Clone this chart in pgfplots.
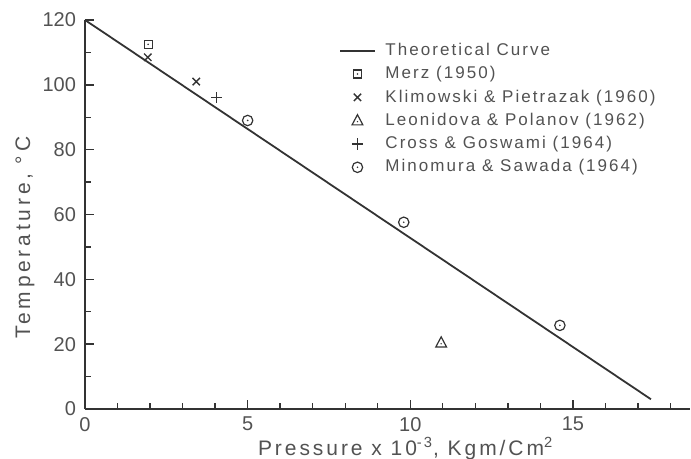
\documentclass[border=0pt]{standalone}
\usepackage{pgfplots}
\pgfplotsset{compat=1.18}
\usepackage{fontspec}
\setmainfont{Liberation Sans}
\newfontfamily\spaced[LetterSpace=18]{Liberation Sans}
\newfontfamily\xspaced[LetterSpace=14]{Liberation Sans}
\newfontfamily\lspaced[LetterSpace=12]{Liberation Sans}
\definecolor{ink}{HTML}{333333}
\pgfdeclareplotmark{sqdot}{%
  \pgfpathrectangle{\pgfqpoint{-\pgfplotmarksize}{-\pgfplotmarksize}}{\pgfqpoint{2\pgfplotmarksize}{2\pgfplotmarksize}}%
  \pgfusepathqstroke
  \pgfpathcircle{\pgfpointorigin}{0.45pt}\pgfusepathqfill}
\pgfdeclareplotmark{odot}{%
  \pgfpathcircle{\pgfpointorigin}{\pgfplotmarksize}\pgfusepathqstroke
  \pgfpathcircle{\pgfpointorigin}{0.45pt}\pgfusepathqfill}
\pgfdeclareplotmark{tridot}{%
  \pgfpathmoveto{\pgfqpoint{0pt}{\pgfplotmarksize}}%
  \pgfpathlineto{\pgfqpoint{-0.9\pgfplotmarksize}{-0.7\pgfplotmarksize}}%
  \pgfpathlineto{\pgfqpoint{0.9\pgfplotmarksize}{-0.7\pgfplotmarksize}}%
  \pgfpathclose\pgfusepathqstroke
  \pgfpathcircle{\pgfqpoint{0pt}{-0.15\pgfplotmarksize}}{0.4pt}\pgfusepathqfill}
\begin{document}
\begin{tikzpicture}[x=1pt,y=1pt]
\begin{axis}[
  at={(0,0)}, anchor=south west,
  width=302.5pt, height=194.5pt, scale only axis,
  xmin=0, xmax=18.6, ymin=0, ymax=120,
  axis lines=left,
  axis line style={-, line width=0.8pt, ink},
  tick style={ink, line width=0.7pt},
  tick align=inside,
  major tick length=4.5pt, minor tick length=3.2pt,
  xtick={0,5,10,15},
  minor xtick={1,2,3,4,6,7,8,9,11,12,13,14,16,17,18},
  ytick={0,20,40,60,80,100,120},
  minor ytick={10,30,50,70,90,110},
  /pgf/number format/assume math mode=true,
  tick label style={font=\fontsize{10}{12}\selectfont, text=ink!85},
  xticklabel style={yshift=-0.5pt},
  yticklabel style={xshift=-1pt},
  xlabel={\xspaced Pressure x 10\textsuperscript{-3}, Kgm/Cm\textsuperscript{2}},
  ylabel={\spaced Temperature, °C},
  label style={font=\fontsize{10.5}{12}\selectfont, text=ink!85},
  every axis x label/.append style={at={(rel axis cs:0.53,0)}, anchor=center, yshift=-20pt},
  every axis y label/.append style={at={(rel axis cs:0,0.44)}, anchor=center, yshift=30pt},
  legend style={at={(rel axis cs:0.42,0.952)}, anchor=north west, draw=none, fill=none,
    font=\lspaced\fontsize{8.5}{9}\selectfont, text=ink!85,
    row sep=0pt, inner sep=0pt,
    /tikz/every odd column/.append style={column sep=3pt}},
  legend cell align=left,
  legend image post style={ink},
]
\addplot[ink, line width=0.9pt] coordinates {(0,120) (17.4,3)};
\addlegendentry{Theoretical Curve}
\addplot[only marks, mark=sqdot, mark size=2pt, ink, line width=0.6pt] coordinates {(1.94,112.5)};
\addlegendentry{Merz (1950)}
\addplot[only marks, mark=x, mark size=2.6pt, ink, line width=0.7pt] coordinates {(1.93,108.5) (3.42,101)};
\addlegendentry{Klimowski \& Pietrazak (1960)}
\addplot[only marks, mark=tridot, mark size=3pt, ink, line width=0.6pt] coordinates {(10.95,20.4)};
\addlegendentry{Leonidova \& Polanov (1962)}
\addplot[only marks, mark=+, mark size=2.8pt, ink, line width=0.7pt] coordinates {(4.05,96)};
\addlegendentry{Cross \& Goswami (1964)}
\addplot[only marks, mark=odot, mark size=2.6pt, ink, line width=0.6pt] coordinates {(5.0,89) (9.8,57.6) (14.6,25.8)};
\addlegendentry{Minomura \& Sawada (1964)}
\end{axis}
\pgfresetboundingbox
\path (-42.5,-25) rectangle (303,204.5);
\end{tikzpicture}
\end{document}
